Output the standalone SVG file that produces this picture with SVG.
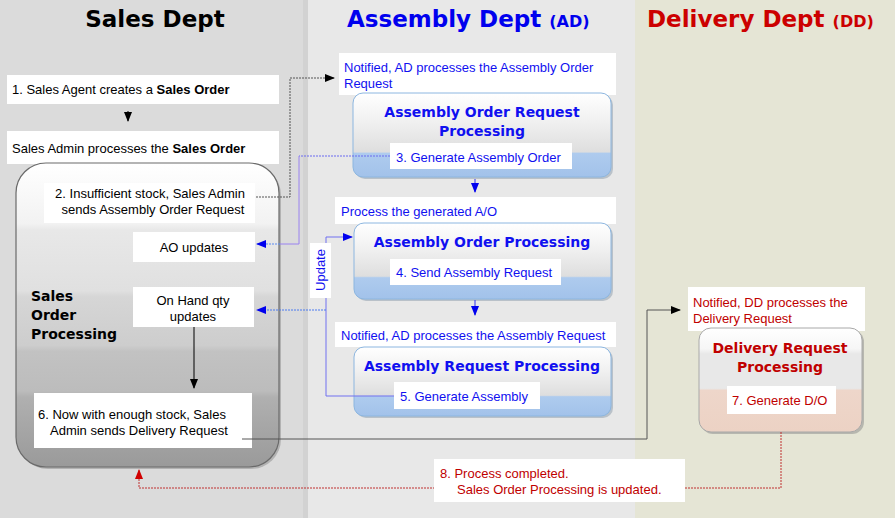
<svg xmlns="http://www.w3.org/2000/svg" width="895" height="518" viewBox="0 0 895 518">
<style>
.t{font-family:"Liberation Sans",Arial,sans-serif;font-size:13px;fill:#000}
.b{font-weight:bold}
.blue{fill:#1010f0}
.red{fill:#c00000}
.hd{font-family:"DejaVu Sans",Verdana,sans-serif;font-weight:bold}
.bt{font-family:"DejaVu Sans",Verdana,sans-serif;font-weight:bold;font-size:14px}
.wb{fill:#fff}
.c{fill:none;stroke-width:1}
</style>
<defs>
<linearGradient id="gSO" x1="0" y1="0" x2="0" y2="1">
<stop offset="0" stop-color="#ffffff"/>
<stop offset="0.2" stop-color="#f2f2f2"/>
<stop offset="0.22" stop-color="#e8e8e8"/>
<stop offset="0.42" stop-color="#e0e0e0"/>
<stop offset="0.44" stop-color="#d6d6d6"/>
<stop offset="0.6" stop-color="#cdcdcd"/>
<stop offset="0.62" stop-color="#c2c2c2"/>
<stop offset="0.75" stop-color="#bcbcbc"/>
<stop offset="0.77" stop-color="#b0b0b0"/>
<stop offset="0.85" stop-color="#a8a8a8"/>
<stop offset="1" stop-color="#9a9a9a"/>
</linearGradient>
<linearGradient id="gA" x1="0" y1="0" x2="0" y2="1">
<stop offset="0" stop-color="#ffffff"/>
<stop offset="0.35" stop-color="#f0f0f0"/>
<stop offset="0.7" stop-color="#dedede"/>
<stop offset="0.72" stop-color="#aecbee"/>
<stop offset="1" stop-color="#a2c2ea"/>
</linearGradient>
<linearGradient id="gD" x1="0" y1="0" x2="0" y2="1">
<stop offset="0" stop-color="#ffffff"/>
<stop offset="0.2" stop-color="#f6f6f6"/>
<stop offset="0.25" stop-color="#e8e8e8"/>
<stop offset="0.58" stop-color="#e8e8e8"/>
<stop offset="0.6" stop-color="#eed6ca"/>
<stop offset="1" stop-color="#ecd2c4"/>
</linearGradient>
<marker id="mk" markerWidth="10" markerHeight="8" refX="9" refY="4" orient="auto" markerUnits="userSpaceOnUse">
<path d="M0,0 L10,4 L0,8 z" fill="#000"/>
</marker>
<marker id="mb" markerWidth="10" markerHeight="8" refX="9" refY="4" orient="auto" markerUnits="userSpaceOnUse">
<path d="M0,0 L10,4 L0,8 z" fill="#0000ee"/>
</marker>
<marker id="mr" markerWidth="10" markerHeight="8" refX="9" refY="4" orient="auto" markerUnits="userSpaceOnUse">
<path d="M0,0 L10,4 L0,8 z" fill="#d00000"/>
</marker>
</defs>

<!-- lanes -->
<rect x="0" y="0" width="308" height="518" fill="#dbdbdb"/>
<rect x="303" y="0" width="5" height="518" fill="#d2d2d2"/>
<rect x="308" y="0" width="327" height="518" fill="#e8e8e8"/>
<rect x="635" y="0" width="260" height="518" fill="#e5e5d5"/>

<text class="hd" x="155" y="27" font-size="23" text-anchor="middle" fill="#000">Sales Dept</text>
<text class="hd" x="347" y="27" font-size="23" fill="#0000ee">Assembly Dept <tspan font-size="16">(AD)</tspan></text>
<text class="hd" x="647" y="27" font-size="23" fill="#cc0000">Delivery Dept <tspan font-size="16">(DD)</tspan></text>

<!-- Sales lane -->
<g id="step1">
<rect class="wb" x="7" y="75" width="272" height="29"/>
<text class="t" x="12" y="94">1. Sales Agent creates a <tspan class="b">Sales Order</tspan></text>
</g>
<g id="salesAdmin">
<rect class="wb" x="7" y="131" width="272" height="33"/>
<text class="t" x="12" y="153">Sales Admin processes the <tspan class="b">Sales Order</tspan></text>
</g>
<g id="salesOrderProcessing">
<rect x="18" y="165" width="263" height="304" rx="30" fill="#8a8a8a" opacity="0.5"/>
<rect x="16" y="163" width="263" height="304" rx="30" fill="url(#gSO)" stroke="#6a6a6a" stroke-width="1.2"/>
<text class="bt" x="31" y="301" fill="#000">Sales</text>
<text class="bt" x="31" y="320" fill="#000">Order</text>
<text class="bt" x="31" y="339" fill="#000">Processing</text>
</g>
<g id="step2">
<rect class="wb" x="44" y="183" width="211" height="40"/>
<text class="t" x="150" y="198" text-anchor="middle">2. Insufficient stock, Sales Admin</text>
<text class="t" x="153" y="214" text-anchor="middle">sends Assembly Order Request</text>
</g>
<g id="aoUpdates">
<rect class="wb" x="133" y="232" width="122" height="30"/>
<text class="t" x="194" y="252" text-anchor="middle">AO updates</text>
</g>
<g id="onHand">
<rect class="wb" x="133" y="287" width="121" height="40"/>
<text class="t" x="193" y="305" text-anchor="middle">On Hand qty</text>
<text class="t" x="193" y="321" text-anchor="middle">updates</text>
</g>
<g id="step6">
<rect class="wb" x="34" y="393" width="218" height="55"/>
<text class="t" x="38" y="419">6. Now with enough stock, Sales</text>
<text class="t" x="50" y="435">Admin sends Delivery Request</text>
</g>

<!-- Assembly lane -->
<g id="aorNotice">
<rect class="wb" x="339" y="53" width="277" height="42"/>
<text class="t blue" x="344" y="72">Notified, AD processes the Assembly Order</text>
<text class="t blue" x="344" y="88">Request</text>
</g>
<g id="aorProcessing">
<rect x="355" y="95" width="258" height="84" rx="10" fill="#9aa6b4" opacity="0.6"/>
<rect x="353" y="93" width="258" height="84" rx="10" fill="url(#gA)" stroke="#8cb6e0"/>
<text class="bt blue" x="482" y="117" text-anchor="middle">Assembly Order Request</text>
<text class="bt blue" x="482" y="136" text-anchor="middle">Processing</text>
<rect class="wb" x="390" y="143" width="182" height="26"/>
<text class="t blue" x="396" y="162">3. Generate Assembly Order</text>
</g>
<g id="aoNotice">
<rect class="wb" x="335" y="197" width="281" height="27"/>
<text class="t blue" x="341" y="216">Process the generated A/O</text>
</g>
<g id="aoProcessing">
<rect x="356" y="225" width="257" height="76" rx="10" fill="#9aa6b4" opacity="0.6"/>
<rect x="354" y="223" width="257" height="76" rx="10" fill="url(#gA)" stroke="#8cb6e0"/>
<text class="bt blue" x="482" y="247" text-anchor="middle">Assembly Order Processing</text>
<rect class="wb" x="390" y="259" width="171" height="26"/>
<text class="t blue" x="396" y="277">4. Send Assembly Request</text>
</g>
<g id="arNotice">
<rect class="wb" x="335" y="322" width="281" height="25"/>
<text class="t blue" x="341" y="340">Notified, AD processes the Assembly Request</text>
</g>
<g id="arProcessing">
<rect x="356" y="349" width="257" height="69" rx="10" fill="#9aa6b4" opacity="0.6"/>
<rect x="354" y="347" width="257" height="69" rx="10" fill="url(#gA)" stroke="#8cb6e0"/>
<text class="bt blue" x="482" y="371" text-anchor="middle">Assembly Request Processing</text>
<rect class="wb" x="394" y="382" width="146" height="27"/>
<text class="t blue" x="400" y="401">5. Generate Assembly</text>
</g>

<!-- Delivery lane -->
<g id="drNotice">
<rect class="wb" x="688" y="287" width="177" height="44"/>
<text class="t red" x="693" y="307">Notified, DD processes the</text>
<text class="t red" x="693" y="323">Delivery Request</text>
</g>
<g id="drProcessing">
<rect x="701" y="330" width="163" height="104" rx="12" fill="#8a8a8a" opacity="0.5"/>
<rect x="699" y="328" width="163" height="104" rx="12" fill="url(#gD)" stroke="#a8a8a8"/>
<text class="bt red" x="780" y="353" text-anchor="middle">Delivery Request</text>
<text class="bt red" x="780" y="372" text-anchor="middle">Processing</text>
<rect class="wb" x="727" y="386" width="109" height="28"/>
<text class="t red" x="732" y="405">7. Generate D/O</text>
</g>

<!-- connectors -->
<g id="connectors">
<path class="c" d="M128,111 V121" stroke="#000" marker-end="url(#mk)"/>
<path class="c" d="M256,197 H290 V78 H334" stroke="#555" stroke-dasharray="2,1" marker-end="url(#mk)"/>
<path class="c" d="M390,156 H299" stroke="#6a6af0" stroke-dasharray="2,1"/>
<path class="c" d="M299,156 V244 H280" stroke="#9a82f0" stroke-width="1.6"/>
<path class="c" d="M280,244 H257" stroke="#5a8af0" stroke-dasharray="2,1" marker-end="url(#mb)"/>
<path class="c" d="M475,179 V192" stroke="#3030f0" marker-end="url(#mb)"/>
<path class="c" d="M475,300 V315" stroke="#3030f0" marker-end="url(#mb)"/>
<path class="c" d="M394,396 H326 V237 H352" stroke="#7070f0" marker-end="url(#mb)"/>
<path class="c" d="M326,310 H257" stroke="#4a7af0" stroke-dasharray="2,1" marker-end="url(#mb)"/>
<path class="c" d="M194,327 V388" stroke="#000" marker-end="url(#mk)"/>
<path class="c" d="M242,439 H647 V310 H680" stroke="#555" marker-end="url(#mk)"/>
<path class="c" d="M781,432 V488 H139 V470" stroke="#c03030" stroke-dasharray="2,1" marker-end="url(#mr)"/>
</g>

<g id="updateLabel">
<rect class="wb" x="310" y="243" width="21" height="55"/>
<text class="t blue" transform="translate(325,270) rotate(-90)" text-anchor="middle">Update</text>
</g>
<g id="step8">
<rect class="wb" x="434" y="459" width="251" height="43"/>
<text class="t red" x="440" y="478">8. Process completed.</text>
<text class="t red" x="457" y="494">Sales Order Processing is updated.</text>
</g>
</svg>
